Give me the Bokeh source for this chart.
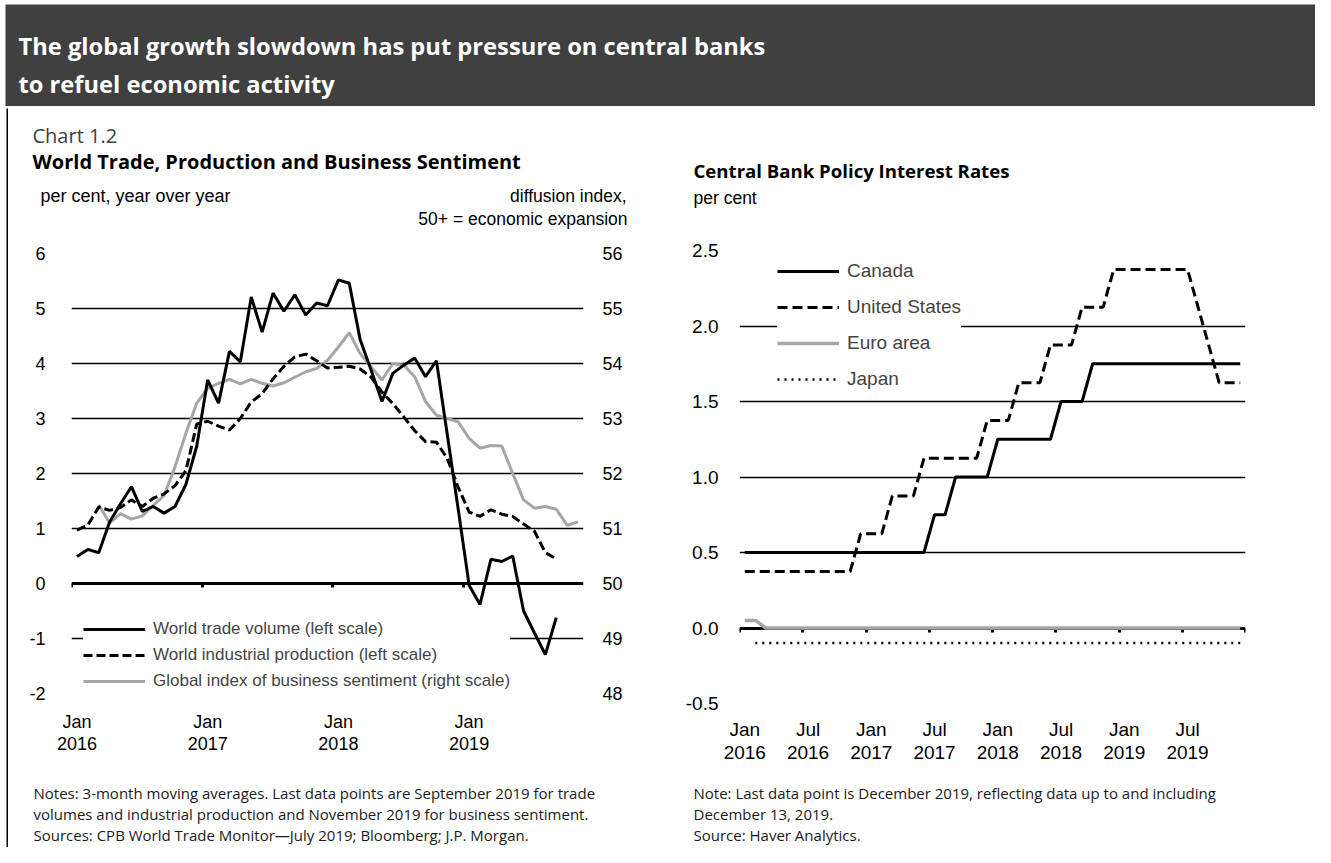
from bokeh.plotting import figure
from bokeh.models import (Range1d, LinearAxis, FixedTicker, Label, Legend, LegendItem,
                          NumeralTickFormatter, ColumnDataSource, Grid)
from bokeh.layouts import column, row
from bokeh.embed import file_html
from bokeh.resources import INLINE
import numpy as np

# ---------------- data ----------------
# Left chart: monthly, Jan 2016 .. Nov 2019 (index 0 = Jan 2016)
left_tick_labels = {0: "Jan\n2016", 12: "Jan\n2017", 24: "Jan\n2018", 36: "Jan\n2019"}
left_y_labels = {-2: "-2", -1: "-1", 0: "0", 1: "1", 2: "2", 3: "3", 4: "4", 5: "5", 6: "6"}
right_y_labels = {48: "48", 49: "49", 50: "50", 51: "51", 52: "52", 53: "53", 54: "54", 55: "55", 56: "56"}

world_trade = [0.49, 0.62, 0.56, 1.12, 1.45, 1.76, 1.31, 1.40, 1.28, 1.40, 1.80, 2.50,
               3.70, 3.28, 4.22, 4.03, 5.21, 4.57, 5.28, 4.95, 5.25, 4.88, 5.10, 5.05,
               5.52, 5.46, 4.43, 3.88, 3.31, 3.82, 3.97, 4.10, 3.76, 4.05, 2.70, 1.35,
               -0.03, -0.38, 0.44, 0.40, 0.50, -0.50, -0.90, -1.29, -0.62]  # Jan16..Sep19

world_ip = [0.97, 1.06, 1.39, 1.33, 1.38, 1.52, 1.40, 1.55, 1.63, 1.78, 2.05, 2.90,
            2.95, 2.86, 2.79, 3.00, 3.30, 3.45, 3.72, 3.95, 4.12, 4.17, 4.05, 3.92,
            3.93, 3.95, 3.90, 3.75, 3.48, 3.27, 3.03, 2.78, 2.58, 2.57, 2.27, 1.75,
            1.30, 1.22, 1.34, 1.26, 1.22, 1.08, 0.95, 0.56, 0.45]  # Jan16..Sep19

sentiment_start = 2  # Mar 2016
sentiment = [51.43, 51.10, 51.27, 51.17, 51.23, 51.42, 51.60, 52.12, 52.73, 53.28,
             53.55, 53.64, 53.71, 53.63, 53.71, 53.64, 53.59, 53.65, 53.75, 53.85, 53.91, 54.06,
             54.30, 54.56, 54.18, 53.94, 53.70, 54.00, 53.97, 53.76, 53.31, 53.06, 53.00, 52.94,
             52.64, 52.46, 52.51, 52.50, 52.00, 51.52, 51.37, 51.40, 51.35, 51.06, 51.12]  # Mar16..Nov19

# Right chart: monthly, Jan 2016 .. Dec 2019
right_tick_labels = {0: "Jan\n2016", 6: "Jul\n2016", 12: "Jan\n2017", 18: "Jul\n2017",
                     24: "Jan\n2018", 30: "Jul\n2018", 36: "Jan\n2019", 42: "Jul\n2019"}
canada = [0.5, 0.5, 0.5, 0.5, 0.5, 0.5, 0.5, 0.5, 0.5, 0.5, 0.5, 0.5,
          0.5, 0.5, 0.5, 0.5, 0.5, 0.5, 0.75, 0.75, 1.0, 1.0, 1.0, 1.0,
          1.25, 1.25, 1.25, 1.25, 1.25, 1.25, 1.5, 1.5, 1.5, 1.75, 1.75, 1.75,
          1.75, 1.75, 1.75, 1.75, 1.75, 1.75, 1.75, 1.75, 1.75, 1.75, 1.75, 1.75]
united_states = [0.375, 0.375, 0.375, 0.375, 0.375, 0.375, 0.375, 0.375, 0.375, 0.375, 0.375, 0.625,
                 0.625, 0.625, 0.875, 0.875, 0.875, 1.125, 1.125, 1.125, 1.125, 1.125, 1.125, 1.375,
                 1.375, 1.375, 1.625, 1.625, 1.625, 1.875, 1.875, 1.875, 2.125, 2.125, 2.125, 2.375,
                 2.375, 2.375, 2.375, 2.375, 2.375, 2.375, 2.375, 2.125, 1.875, 1.625, 1.625, 1.625]
euro_area = [0.05, 0.05, 0.0, 0.0, 0.0, 0.0, 0.0, 0.0, 0.0, 0.0, 0.0, 0.0,
             0.0, 0.0, 0.0, 0.0, 0.0, 0.0, 0.0, 0.0, 0.0, 0.0, 0.0, 0.0,
             0.0, 0.0, 0.0, 0.0, 0.0, 0.0, 0.0, 0.0, 0.0, 0.0, 0.0, 0.0,
             0.0, 0.0, 0.0, 0.0, 0.0, 0.0, 0.0, 0.0, 0.0, 0.0, 0.0, 0.0]
japan = [np.nan, -0.1, -0.1, -0.1, -0.1, -0.1, -0.1, -0.1, -0.1, -0.1, -0.1, -0.1,
         -0.1, -0.1, -0.1, -0.1, -0.1, -0.1, -0.1, -0.1, -0.1, -0.1, -0.1, -0.1,
         -0.1, -0.1, -0.1, -0.1, -0.1, -0.1, -0.1, -0.1, -0.1, -0.1, -0.1, -0.1,
         -0.1, -0.1, -0.1, -0.1, -0.1, -0.1, -0.1, -0.1, -0.1, -0.1, -0.1, -0.1]

GRAY = "#a6a6a6"
AX_FONT = "Liberation Sans"
NOTE_FONT = "Open Sans"


def strip_fig(w, h, color):
    f = figure(width=w, height=h, toolbar_location=None, output_backend="svg",
               x_axis_location=None, y_axis_location=None, min_border=0,
               x_range=Range1d(0, 1), y_range=Range1d(0, 1))
    f.outline_line_color = None
    f.background_fill_color = color
    f.border_fill_color = color
    f.center = []
    return f


class TextBox:
    """A figure used only as a text canvas; positions given in reference page pixels."""

    def __init__(self, w, h, left, top, bg="white", ml=0, mt=0):
        f = figure(width=w, height=h, toolbar_location=None, output_backend="svg",
                   x_axis_location=None, y_axis_location=None, min_border=0,
                   min_border_left=ml, min_border_top=mt,
                   x_range=Range1d(0, 1), y_range=Range1d(0, 1))
        f.outline_line_color = None
        f.background_fill_color = bg
        f.border_fill_color = "white"
        f.center = []
        self.fig = f
        self.fl = left + ml
        self.fb = top + h

    def put(self, x, y, text, **kw):
        opts = dict(text_baseline="middle", text_color="black")
        opts.update(kw)
        self.fig.add_layout(Label(x=x - self.fl, y=self.fb - y, x_units="screen",
                                  y_units="screen", text=text, **opts))


def base_fig(w, h, xr, yr, ml, mr, mt, mb):
    f = figure(width=w, height=h, x_range=xr, y_range=yr, toolbar_location=None,
               output_backend="svg", x_axis_location=None, y_axis_location=None,
               min_border_left=ml, min_border_right=mr, min_border_top=mt, min_border_bottom=mb)
    f.outline_line_color = None
    f.background_fill_color = "white"
    f.border_fill_color = "white"
    f.center = []
    return f


def label_axis(ticks, overrides, size, standoff):
    ax = LinearAxis(ticker=FixedTicker(ticks=ticks), major_label_overrides=overrides)
    ax.axis_line_color = None
    ax.major_tick_line_color = None
    ax.minor_tick_line_color = None
    ax.major_label_standoff = standoff
    ax.major_label_text_font = AX_FONT
    ax.major_label_text_font_size = size
    ax.major_label_text_color = "black"
    ax.major_label_text_line_height = 1.1
    return ax


def zero_axis(ticks):
    ax = LinearAxis(ticker=FixedTicker(ticks=ticks), fixed_location=0)
    ax.axis_line_color = "black"
    ax.axis_line_width = 3
    ax.major_tick_line_color = "black"
    ax.major_tick_line_width = 3
    ax.major_tick_out = 4
    ax.major_tick_in = 0
    ax.minor_tick_line_color = None
    ax.major_label_text_font_size = "1px"
    ax.major_label_text_color = None
    ax.major_label_standoff = 0
    return ax


def y_axis(ticks, size, standoff, fmt=None, overrides=None, range_name=None):
    kw = {}
    if range_name:
        kw["y_range_name"] = range_name
    ax = LinearAxis(ticker=FixedTicker(ticks=ticks), **kw)
    if fmt:
        ax.formatter = NumeralTickFormatter(format=fmt)
    if overrides:
        ax.major_label_overrides = overrides
    ax.axis_line_color = None
    ax.major_tick_line_color = None
    ax.minor_tick_line_color = None
    ax.major_label_standoff = standoff
    ax.major_label_text_font = AX_FONT
    ax.major_label_text_font_size = size
    ax.major_label_text_color = "black"
    return ax


W = 1315
# ---------------- header ----------------
hdr = TextBox(W, 106, 0, 0, bg="#404040", ml=5, mt=4)
for txt, yy in [("The global growth slowdown has put pressure on central banks", 45),
                ("to refuel economic activity", 83)]:
    hdr.put(18, yy, txt, text_color="white", text_font="Open Sans",
            text_font_size="23.7px", text_font_style="bold")
hdr_line = row(strip_fig(5, 2, "white"), strip_fig(W - 5, 2, "black"), spacing=0)

BODY_TOP = 108
BODY_H = 847 - BODY_TOP
TOP_H = 127          # text block above the charts
BOT_H = 72           # notes block
CH_H = BODY_H - TOP_H - BOT_H
CH_TOP = BODY_TOP + TOP_H  # 235
BOT_TOP = CH_TOP + CH_H

# ---------------- left chart ----------------
LX0, LW = 8, 657
l_top = TextBox(LW, TOP_H, LX0, BODY_TOP)
l_top.put(32, 135, "Chart 1.2", text_font="Open Sans", text_font_size="20px", text_color="#404040")
l_top.put(32, 161, "World Trade, Production and Business Sentiment",
          text_font="Open Sans", text_font_size="20px", text_font_style="bold")
l_top.put(40, 195, "per cent, year over year", text_font=AX_FONT, text_font_size="18px")
l_top.put(626, 195, "diffusion index,", text_font=AX_FONT, text_font_size="17.5px", text_align="right")
l_top.put(627, 218, "50+ = economic expansion", text_font=AX_FONT, text_font_size="17.5px", text_align="right")

n_left = 47
l_mt = 253 - CH_TOP
pl = base_fig(LW, CH_H, Range1d(-0.5, n_left - 0.5), Range1d(-2, 6), 71 - LX0, LW - (71 - LX0) - 512,
              l_mt, CH_H - l_mt - 440)
pl.extra_y_ranges = {"right": Range1d(48, 56)}
pl.add_layout(Grid(dimension=1, ticker=FixedTicker(ticks=[-2, -1, 1, 2, 3, 4, 5, 6]),
                   grid_line_color="black", grid_line_width=1.5))
pl.add_layout(label_axis([0, 12, 24, 36], left_tick_labels, "18px", 12), "below")
pl.add_layout(zero_axis([-0.5, 11.5, 23.5, 35.5]), "below")
pl.add_layout(y_axis(list(range(-2, 7)), "18px", 20, overrides=left_y_labels), "left")
pl.add_layout(y_axis(list(range(48, 57)), "18px", 13, overrides=right_y_labels, range_name="right"), "right")

src_trade = ColumnDataSource(dict(x=np.arange(len(world_trade)), y=world_trade))
src_ip = ColumnDataSource(dict(x=np.arange(len(world_ip)), y=world_ip))
src_sent = ColumnDataSource(dict(x=np.arange(len(sentiment)) + sentiment_start, y=sentiment))

r_sent = pl.line("x", "y", source=src_sent, y_range_name="right", line_color=GRAY, line_width=3)
r_ip = pl.line("x", "y", source=src_ip, line_color="black", line_width=3, line_dash="9 4")
r_trade = pl.line("x", "y", source=src_trade, line_color="black", line_width=3)

leg_l = Legend(items=[LegendItem(label="World trade volume (left scale)", renderers=[r_trade]),
                      LegendItem(label="World industrial production (left scale)", renderers=[r_ip]),
                      LegendItem(label="Global index of business sentiment (right scale)", renderers=[r_sent])],
               location=(12, 2))
leg_l.margin = 0
leg_l.padding = 2
leg_l.spacing = 6
leg_l.glyph_width = 62
leg_l.glyph_height = 20
leg_l.label_height = 20
leg_l.label_standoff = 8
leg_l.label_text_font = AX_FONT
leg_l.label_text_font_size = "17px"
leg_l.border_line_color = None
leg_l.background_fill_color = "white"
leg_l.background_fill_alpha = 1.0
pl.add_layout(leg_l)

l_bot = TextBox(LW, BOT_H, LX0, BOT_TOP)
notes_left = ["Notes: 3-month moving averages. Last data points are September 2019 for trade",
              "volumes and industrial production and November 2019 for business sentiment.",
              "Sources: CPB World Trade Monitor\u2014July 2019; Bloomberg; J.P. Morgan."]
for k, t in enumerate(notes_left):
    l_bot.put(33, 792 + 21 * k, t, text_font=NOTE_FONT, text_font_size="15px", text_color="#1a1a1a")

# ---------------- right chart ----------------
RX0, RW = 665, W - 665
r_top = TextBox(RW, TOP_H, RX0, BODY_TOP)
r_top.put(693, 170, "Central Bank Policy Interest Rates",
          text_font="Open Sans", text_font_size="18.6px", text_font_style="bold")
r_top.put(693, 197, "per cent", text_font=AX_FONT, text_font_size="17.5px")

n_right = 48
r_mt = 250 - CH_TOP
pr = base_fig(RW, CH_H, Range1d(-0.5, n_right - 0.5), Range1d(-0.5, 2.5), 739 - RX0, RW - (739 - RX0) - 506,
              r_mt, CH_H - r_mt - 453)
pr.add_layout(Grid(dimension=1, ticker=FixedTicker(ticks=[-0.5, 0.5, 1.0, 1.5, 2.0, 2.5]),
                   grid_line_color="black", grid_line_width=1.5))
pr.add_layout(label_axis([0, 6, 12, 18, 24, 30, 36, 42], right_tick_labels, "19px", 9), "below")
pr.add_layout(zero_axis([-0.5, 5.5, 11.5, 17.5, 23.5, 29.5, 35.5, 41.5, 47.5]), "below")
pr.add_layout(y_axis([-0.5, 0.0, 0.5, 1.0, 1.5, 2.0, 2.5], "19px", 15, fmt="0.0"), "left")

xr = np.arange(n_right)
r_jp = pr.line(xr, japan, line_color="black", line_width=2.5, line_dash="2 5")
r_eu = pr.line(xr, euro_area, line_color=GRAY, line_width=3.5, level="annotation")
r_us = pr.line(xr, united_states, line_color="black", line_width=3, line_dash="10 5")
r_ca = pr.line(xr, canada, line_color="black", line_width=3)

leg_r = Legend(items=[LegendItem(label="Canada", renderers=[r_ca]),
                      LegendItem(label="United States", renderers=[r_us]),
                      LegendItem(label="Euro area", renderers=[r_eu]),
                      LegendItem(label="Japan", renderers=[r_jp])],
               location=(38, 312))
leg_r.margin = 0
leg_r.padding = 6
leg_r.spacing = 12
leg_r.glyph_width = 62
leg_r.glyph_height = 24
leg_r.label_height = 24
leg_r.label_standoff = 8
leg_r.label_text_font = AX_FONT
leg_r.label_text_font_size = "19px"
leg_r.border_line_color = None
leg_r.background_fill_color = "white"
leg_r.background_fill_alpha = 1.0
pr.add_layout(leg_r)

r_bot = TextBox(RW, BOT_H, RX0, BOT_TOP)
notes_right = ["Note: Last data point is December 2019, reflecting data up to and including",
               "December 13, 2019.",
               "Source: Haver Analytics."]
for k, t in enumerate(notes_right):
    r_bot.put(693, 792 + 21 * k, t, text_font=NOTE_FONT, text_font_size="15px", text_color="#1a1a1a")

left_col = column(row(l_top.fig), row(pl), row(l_bot.fig), spacing=0)
right_col = column(row(r_top.fig), row(pr), row(r_bot.fig), spacing=0)
body = row(strip_fig(6, BODY_H, "white"), strip_fig(2, BODY_H, "black"), left_col, right_col, spacing=0)
layout = column(hdr.fig, hdr_line, body, spacing=0)
open("out.html", "w").write(file_html(layout, INLINE))
